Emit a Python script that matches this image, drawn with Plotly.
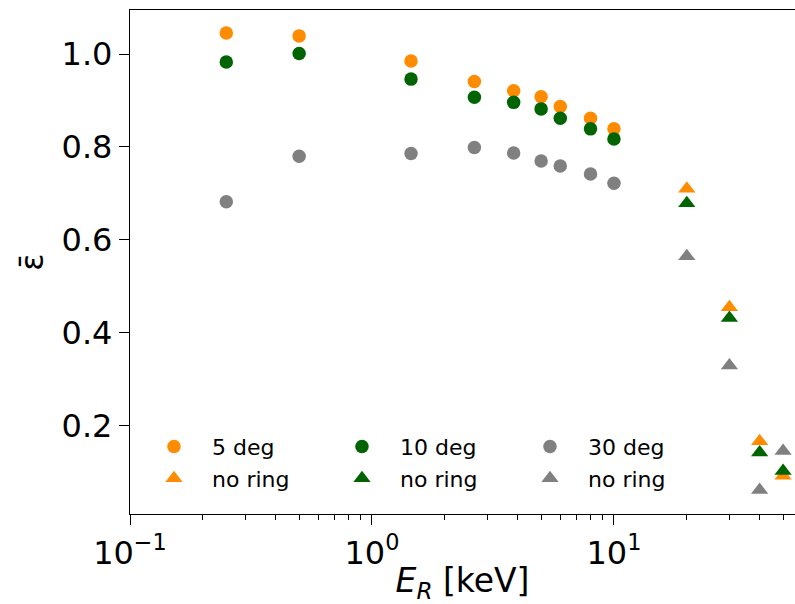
import plotly.graph_objects as go
import numpy as np

# ---- data ----
x_ring = [0.25, 0.5, 1.45, 2.65, 3.85, 5.0, 6.0, 8.0, 10.0]
y5_ring = [1.045, 1.039, 0.985, 0.941, 0.921, 0.908, 0.887, 0.862, 0.839]
y10_ring = [0.983, 1.001, 0.946, 0.907, 0.896, 0.882, 0.862, 0.839, 0.817]
y30_ring = [0.682, 0.780, 0.786, 0.799, 0.787, 0.770, 0.759, 0.742, 0.722]

x_noring = [20, 30, 40, 50]
y5_noring = [0.710, 0.455, 0.167, 0.093]
y10_noring = [0.679, 0.432, 0.143, 0.103]
y30_noring = [0.565, 0.330, 0.062, 0.146]

series = [
    ("5 deg", "no ring", "darkorange", y5_ring, y5_noring),
    ("10 deg", "no ring", "darkgreen", y10_ring, y10_noring),
    ("30 deg", "no ring", "grey", y30_ring, y30_noring),
]

x_major = [0.1, 1, 10]
x_major_text = ["10<sup>\u22121</sup>", "10<sup>0</sup>", "10<sup>1</sup>"]
x_minor = [m * d for d in (0.1, 1, 10) for m in range(2, 10)]
y_ticks = [0.2, 0.4, 0.6, 0.8, 1.0]
y_tick_text = ["0.2", "0.4", "0.6", "0.8", "1.0"]

fig = go.Figure()
for i, (lab1, lab2, col, yr, yn) in enumerate(series):
    fig.add_trace(go.Scatter(
        x=x_ring, y=yr, mode="markers", name=lab1,
        marker=dict(symbol="circle", size=13.5, color=col),
        legendrank=1 + i,
    ))
    fig.add_trace(go.Scatter(
        x=x_noring, y=yn, mode="markers", name=lab2,
        marker=dict(symbol="triangle-up", size=15, color=col),
        legendrank=10 + i,
    ))

font_main = "DejaVu Sans"
fig.update_layout(
    width=795, height=604,
    margin=dict(l=130, r=0, t=10, b=90),
    paper_bgcolor="white", plot_bgcolor="white",
    font=dict(family=font_main, size=32, color="black"),
    showlegend=True,
    legend=dict(
        orientation="h", x=0.009, y=0.175, xanchor="left", yanchor="top",
        entrywidth=107, entrywidthmode="pixels",
        font=dict(size=22), bgcolor="rgba(0,0,0,0)", borderwidth=0,
        itemwidth=66,
    ),
    xaxis=dict(
        type="log", range=[-1, np.log10(56)],
        showgrid=False, zeroline=False,
        showline=True, linecolor="black", linewidth=1.3, mirror=True,
        ticks="outside", ticklen=10, tickwidth=1.3, tickcolor="black",
        tickvals=x_major, ticktext=x_major_text,
        tickfont=dict(size=32),
        minor=dict(tickvals=x_minor, ticks="outside", ticklen=5, tickwidth=1, tickcolor="black"),
        title=dict(text="<i>E</i><sub><i>R</i></sub> [keV]", font=dict(size=33), standoff=10),
    ),
    yaxis=dict(
        range=[0.0105, 1.0947],
        showgrid=False, zeroline=False,
        showline=True, linecolor="black", linewidth=1.3, mirror=False,
        ticks="outside", ticklen=10, tickwidth=1.3, tickcolor="black",
        tickvals=y_ticks, ticktext=y_tick_text,
        tickfont=dict(size=32),
        title=dict(text="\u03b5\u0304", font=dict(size=32), standoff=8),
    ),
)

fig.write_html(
    "out.html",
    config={"displayModeBar": False},
    post_script="document.body.style.margin='0';document.body.style.overflow='hidden';",
)
